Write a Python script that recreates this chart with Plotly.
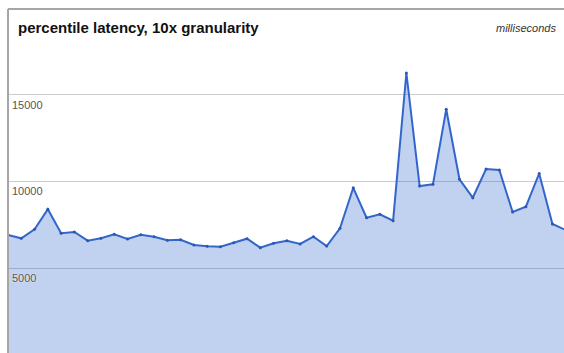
import plotly.graph_objects as go

# data
latency_ms = [6907, 6716, 7237, 8393, 7005, 7081, 6578, 6716, 6948, 6676,
              6924, 6809, 6601, 6635, 6329, 6254, 6231, 6462, 6693, 6173,
              6427, 6578, 6387, 6809, 6271, 7294, 9635, 7907, 8104, 7734,
              16271, 9739, 9838, 14173, 10127, 9063, 10722, 10664, 8237, 8543,
              10462, 7543, 7196]
sample_index = list(range(len(latency_ms)))
tick_values = [5000, 10000, 15000]
tick_labels = ["5000", "10000", "15000"]
title_text = "percentile latency, 10x granularity"
unit_text = "milliseconds"

W, H = 564, 353
fig = go.Figure()
fig.add_trace(go.Scatter(
    x=sample_index, y=latency_ms, mode="lines+markers",
    line=dict(color="#3366cc", width=2),
    marker=dict(color="#2b57b0", size=3),
    fill="tozeroy", fillcolor="rgba(51,102,204,0.3)",
    hoverinfo="skip", cliponaxis=True,
))

fig.update_layout(
    width=W, height=H,
    margin=dict(l=8, r=0, t=9, b=0, pad=0),
    paper_bgcolor="white", plot_bgcolor="white",
    showlegend=False,
    xaxis=dict(range=[0, 41.87], visible=False, showgrid=False, zeroline=False),
    yaxis=dict(range=[87, 19970], tickvals=tick_values, showticklabels=False,
               showgrid=True, gridcolor="#cccccc", gridwidth=1, zeroline=False,
               showline=False),
    font=dict(family="Liberation Sans, Arial, sans-serif"),
)

annotations = []
for v, lab in zip(tick_values, tick_labels):
    annotations.append(dict(
        x=0, xref="paper", xanchor="left", xshift=2,
        y=v, yref="y", yanchor="top", yshift=-2,
        text=lab, showarrow=False,
        font=dict(size=11, color="#555555", shadow="0px 0px 2px white"),
    ))
annotations.append(dict(
    x=0, xref="paper", xanchor="left", xshift=8,
    y=1, yref="paper", yanchor="top", yshift=-8,
    text="<b>" + title_text + "</b>", showarrow=False,
    font=dict(size=15, color="#111111"),
))
annotations.append(dict(
    x=1, xref="paper", xanchor="right", xshift=-6,
    y=1, yref="paper", yanchor="top", yshift=-11,
    text="<i>" + unit_text + "</i>", showarrow=False,
    font=dict(size=11, color="#333333"),
))
fig.update_layout(annotations=annotations)

fig.add_shape(type="line", xref="paper", yref="paper", x0=0, x1=0, y0=0, y1=1,
              line=dict(color="#a6a6a6", width=2))
fig.add_shape(type="line", xref="paper", yref="paper", x0=0, x1=1, y0=1, y1=1,
              line=dict(color="#a6a6a6", width=2))

fig.write_html("out.html")
